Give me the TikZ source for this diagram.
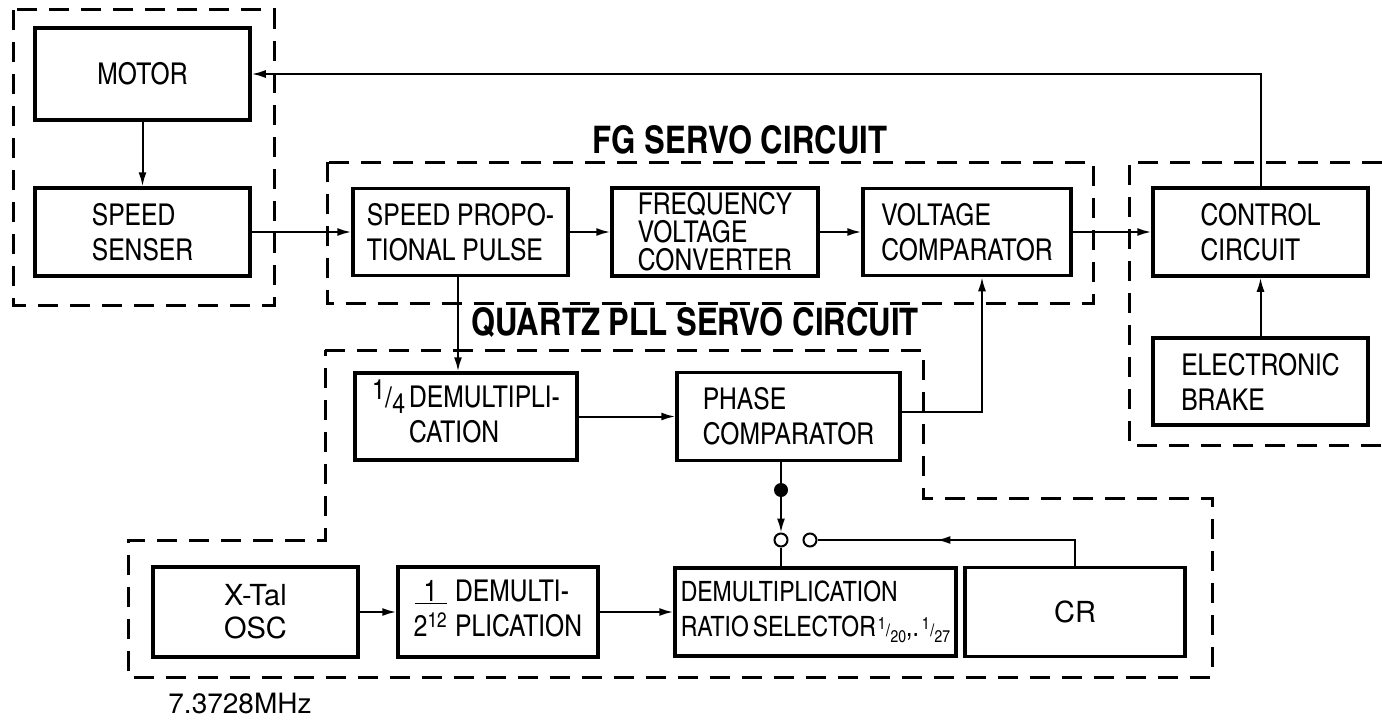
\documentclass[tikz,border=0pt]{standalone}
\usepackage{fontspec}
\setmainfont{TeX Gyre Heros}
\newfontfamily\cnfont{TeX Gyre Heros Cn}
\usetikzlibrary{arrows.meta, decorations.markings}

% slanted fraction for the divider ratios
\newcommand\slfrac[3][22]{\raisebox{0.5ex}{\fontsize{#1}{#1}\selectfont #2}\kern0.02em{\fontsize{#1}{#1}\selectfont/}\kern0.02em\raisebox{-0.4ex}{\fontsize{#1}{#1}\selectfont #3}}

\begin{document}
\begin{tikzpicture}[
    x=1pt, y=-1pt,
    block/.style={draw, line width=3.5pt, align=left, inner sep=0pt,
        font=\cnfont\fontsize{30}{35}\selectfont},
    plainblock/.style={draw, line width=3.5pt, align=left, inner sep=0pt,
        font=\fontsize{29}{33}\selectfont},
    region/.style={line width=3pt, dash pattern=on 20pt off 12pt},
    wire/.style={line width=2pt},
    flow/.style={wire, -{Latex[length=14pt, width=8pt]}},
    midflow/.style={wire, postaction={decorate}, decoration={markings,
        mark=at position #1 with {\arrow{Latex[length=14pt, width=8pt]}}}},
    heading/.style={font=\cnfont\bfseries\fontsize{38}{42}\selectfont},
    tapdot/.style={circle, fill, inner sep=0pt, minimum size=14pt},
    contact/.style={circle, draw, line width=2pt, fill=white, inner sep=0pt, minimum size=13pt}
]
    \useasboundingbox (0,0) rectangle (1382,725);

    % Dashed regions
    \draw[region] (13,10) rectangle (274,305);
    \draw[region] (327,162) rectangle (1093,303);
    \draw[region] (1382,162) -- (1129,162) -- (1129,445) -- (1382,445);
    \draw[region] (325,350) -- (923,350) -- (923,498) -- (1212,498) -- (1212,677)
        -- (128,677) -- (128,540) -- (325,540) -- cycle;

    % Region titles
    \node[heading] (fgtitle) at (740,140) {FG SERVO CIRCUIT};
    \node[heading] (plltitle) at (695,322) {QUARTZ PLL SERVO CIRCUIT};

    % Motor side
    \node[block, minimum width=215pt, minimum height=92pt] (motor) at (142.5,74) {MOTOR};
    \node[block, minimum width=215pt, minimum height=88pt] (senser) at (142.5,232) {SPEED\\SENSER};

    % FG servo row
    \node[block, minimum width=215pt, minimum height=87pt] (pulse) at (460.5,232) {SPEED PROPO-\\TIONAL PULSE};
    \node[block, minimum width=206pt, minimum height=88pt, font=\cnfont\fontsize{30}{28}\selectfont]
        (fvconv) at (715,232) {FREQUENCY\\VOLTAGE\\CONVERTER};
    \node[block, minimum width=208pt, minimum height=87pt] (vcomp) at (967,232) {VOLTAGE\\COMPARATOR};

    % Control side
    \node[block, minimum width=215pt, minimum height=88pt] (control) at (1260.5,232) {CONTROL\\CIRCUIT};
    \node[block, minimum width=215pt, minimum height=87pt] (brake) at (1260.5,381.5) {ELECTRONIC\\BRAKE};

    % Quartz PLL blocks
    \node[block, minimum width=222pt, minimum height=87pt] (quarter) at (466,416.5) {%
        \begin{tabular}{@{}c@{\hspace{4pt}}l@{}}
            \slfrac[28]14 & DEMULTIPLI-\\
                          & CATION
        \end{tabular}};
    \node[block, minimum width=223pt, minimum height=88pt] (phase) at (788.5,416.5) {PHASE\\COMPARATOR};
    \node[plainblock, minimum width=205pt, minimum height=90pt] (xtal) at (255.5,612) {X-Tal\\OSC};
    \node[block, minimum width=200pt, minimum height=90pt] (div12) at (498,612) {%
        \begin{tabular}{@{}c@{\hspace{8pt}}l@{}}
            \underline{\makebox[32pt]{1}} & DEMULTI-\\
            2\textsuperscript{12}         & PLICATION
        \end{tabular}};
    \node[block, minimum width=281pt, minimum height=88pt, font=\cnfont\fontsize{28}{35}\selectfont]
        (selector) at (815.5,612)
        {DEMULTIPLICATION\\RATIO\hspace{4pt}SELECTOR\hspace{2pt}\slfrac[17]1{20},.\hspace{3pt}\slfrac[17]1{27}};
    \node[plainblock, align=center, minimum width=220pt, minimum height=89pt] (cr) at (1075,612) {CR};

    % Switch
    \node[tapdot] (tap) at (781,490) {};
    \node[contact] (swa) at (781,540) {};
    \node[contact] (swb) at (810,540) {};

    \node[font=\fontsize{28}{32}\selectfont] (freq) at (240,703) {7.3728MHz};

    % Connections
    \draw[flow] (control.north) |- (motor.east);
    \draw[flow] (motor) -- (senser);
    \draw[flow] (senser) -- (pulse);
    \draw[flow] (pulse) -- (fvconv);
    \draw[flow] (fvconv) -- (vcomp);
    \draw[flow] (vcomp) -- (control);
    \draw[flow] (brake) -- (control);
    \draw[flow] ([xshift=-2.5pt]pulse.south) -- ([xshift=-2.5pt]pulse.south |- quarter.north);
    \draw[flow] (quarter) -- (phase);
    \draw[flow] ([yshift=5pt]phase.east) -| ([xshift=15pt]vcomp.south);
    \draw[wire] (tap |- phase.south) -- (tap);
    \draw[flow] (tap) -- (swa);
    \draw[wire] (swa) -- (swa |- selector.north);
    \draw[midflow=0.58] (cr.north) |- (swb.east);
    \draw[flow] (xtal) -- (div12);
    \draw[flow] (div12) -- (selector);
\end{tikzpicture}
\end{document}
